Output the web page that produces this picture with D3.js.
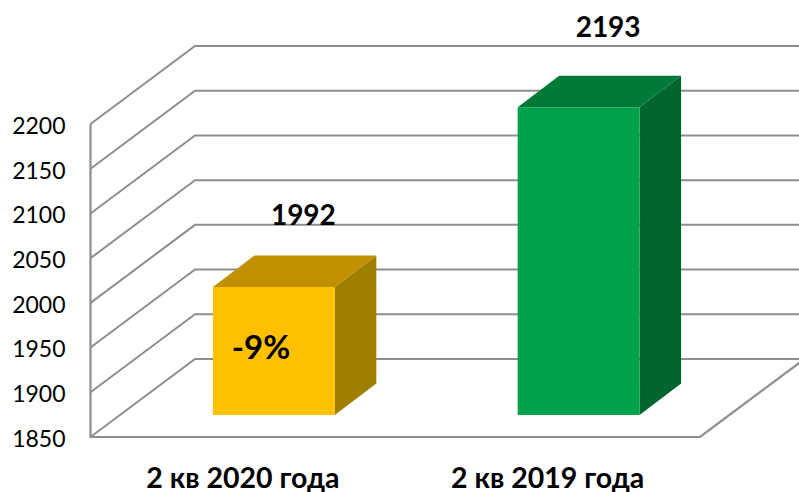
<!DOCTYPE html>
<html><head><meta charset="utf-8">
<script src="https://d3js.org/d3.v7.min.js"></script>
<style>html,body{margin:0;background:#fff}svg{display:block}text{font-family:Lato,"Open Sans",sans-serif;fill:#000}</style>
</head><body><svg id="c" width="799" height="492"></svg>
<script>
const categories = ["2 кв 2020 года", "2 кв 2019 года"];
const values = [1992, 2193];
const valueLabels = ["1992", "2193"];
const tickValues = [1850, 1900, 1950, 2000, 2050, 2100, 2150, 2200];
const frontColors = ["#FFC000", "#00A14B"];
const topColors = ["#C09000", "#007A37"];
const sideColors = ["#A07E00", "#00662E"];

const svg = d3.select("#c");
const x = d3.scaleBand().domain(categories).range([90.5, 700]).paddingInner(0.6).paddingOuter(0.3);
const y = d3.scaleLinear().domain([1850, 2200]).range([437, 124]);
const wallDx = 104.5, wallDy = -78, barShiftX = 31, barShiftY = -22, barDx = 41.5, barDy = -31.5, topLift = -1;
const grid = "#8E8E8E";
const line = d3.line();

// back wall + side wall gridlines
svg.append("g").selectAll("path").data(tickValues).join("path")
  .attr("fill", "none").attr("stroke", grid).attr("stroke-width", 2)
  .attr("d", t => line([[x.range()[0], y(t)], [x.range()[0] + wallDx, y(t) + wallDy], [799, y(t) + wallDy]]));
// floor and axes
svg.append("path").attr("fill", "none").attr("stroke", grid).attr("stroke-width", 2.2)
  .attr("d", line([[x.range()[0], y(2200)], [x.range()[0], y(1850)], [x.range()[1], y(1850)],
                   [x.range()[1] + wallDx, y(1850) + wallDy]]));

// bars
const bars = svg.append("g").selectAll("g").data(categories).join("g");
const fx = c => x(c) + barShiftX, base = y(1850) + barShiftY;
const barTop = i => y(values[i]) + barShiftY + topLift;
bars.append("path").attr("fill", (c, i) => sideColors[i]).attr("d", (c, i) => {
  const r = fx(c) + x.bandwidth();
  return line([[r, barTop(i)], [r + barDx, barTop(i) + barDy], [r + barDx, base + barDy], [r, base]]) + "Z";
});
bars.append("path").attr("fill", (c, i) => topColors[i]).attr("d", (c, i) => {
  const l = fx(c), r = l + x.bandwidth();
  return line([[l, barTop(i)], [l + barDx, barTop(i) + barDy], [r + barDx, barTop(i) + barDy], [r, barTop(i)]]) + "Z";
});
bars.append("rect").attr("fill", (c, i) => frontColors[i])
  .attr("x", fx).attr("width", x.bandwidth())
  .attr("y", (c, i) => barTop(i)).attr("height", (c, i) => base - barTop(i));

// y axis labels
const yAxis = d3.axisLeft(y).tickValues(tickValues).tickSize(0).tickPadding(25).tickFormat(d3.format("d"));
const ag = svg.append("g").attr("transform", "translate(90.5,2)").call(yAxis);
ag.select(".domain").remove();
ag.selectAll("text").style("font-family", "Lato").style("font-size", "23px").attr("fill", "#000");

// category labels
svg.append("g").selectAll("text").data(categories).join("text")
  .attr("x", c => x(c) + x.bandwidth() / 2).attr("y", 478)
  .attr("dy", ".35em").attr("text-anchor", "middle")
  .style("font-size", "28.5px").style("font-weight", 700).text(c => c);

// value labels
const labelGap = [40, 49];
svg.append("g").selectAll("text").data(categories).join("text")
  .attr("x", c => fx(c) + x.bandwidth() / 2 + 29.5)
  .attr("y", (c, i) => barTop(i) + barDy - labelGap[i])
  .attr("dy", ".35em").attr("text-anchor", "middle")
  .style("font-size", "28px").style("font-weight", 700).text((c, i) => valueLabels[i]);

// annotation
svg.append("text").attr("x", 261).attr("y", 347.5).attr("dy", ".35em").attr("text-anchor", "middle")
  .style("font-size", "33px").style("font-weight", 700).text("-9%");
</script></body></html>
